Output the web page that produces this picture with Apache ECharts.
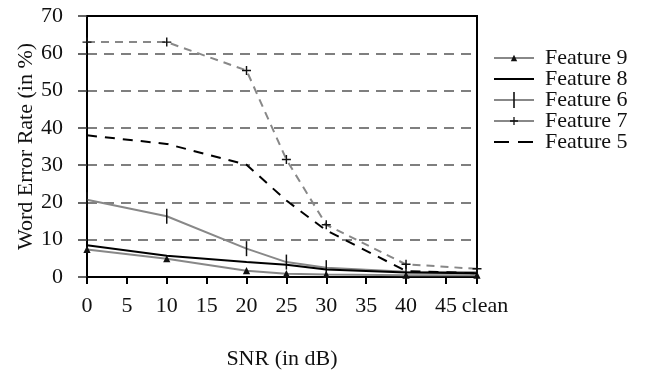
<!DOCTYPE html>
<html>
<head>
<meta charset="utf-8">
<script src="https://cdn.jsdelivr.net/npm/echarts@6/dist/echarts.min.js"></script>
<style>
  html, body { margin: 0; padding: 0; background: #fff; }
  #chart { width: 648px; height: 380px; }
</style>
</head>
<body>
<div id="chart"></div>
<script>
// SNR positions on the x axis; "clean" sits at the right end
const CLEAN = 48.9;
const snr = [0, 10, 20, 25, 30, 40, CLEAN];

const feature9 = [7.4, 4.9, 1.7, 0.9, 0.7, 0.5, 0.5];
const feature8 = [8.5, 5.7, 4.0, 3.3, 2.0, 1.2, 1.0];
const feature6 = [20.7, 16.3, 7.6, 4.0, 2.5, 1.4, 1.3];
const feature7 = [63, 63, 55.4, 31.5, 14.0, 3.4, 2.2];
const feature5 = [38, 35.7, 30.1, 20.5, 12.5, 1.6, 1.0];

const FONT = "Liberation Serif, Times New Roman, serif";
const GRAY = "#888";

// marker paths padded to a 20x20 box so legend and plot sizes stay small
const TRI = "path://M0,0M20,20M6,14L14,14L10,6Z";
const BAR = "path://M0,0M20,20M9,0h2v20h-2z";
const PLUS = "path://M0,0M20,20M9.2,5h1.6v4.2h4.2v1.6h-4.2v4.2h-1.6v-4.2h-4.2v-1.6h4.2z";

const pairs = vals => snr.map((x, i) => [x, vals[i]]);

const chart = echarts.init(document.getElementById("chart"));

chart.setOption({
  animation: false,
  textStyle: { fontFamily: FONT, color: "#111" },
  grid: { left: 87, right: 171, top: 16, bottom: 103, show: true, borderColor: "#000", borderWidth: 2 },
  legend: {
    orient: "vertical",
    left: 493,
    top: 47,
    padding: 0,
    itemWidth: 40,
    itemHeight: 20,
    itemGap: -1,
    textStyle: { fontFamily: FONT, fontSize: 22, lineHeight: 20, color: "#111", padding: [0, 0, 0, 6] },
    data: [
      { name: "Feature 9" },
      { name: "Feature 8", itemStyle: { color: "transparent", borderWidth: 0 } },
      { name: "Feature 6" },
      { name: "Feature 7", lineStyle: { type: "solid" } },
      { name: "Feature 5", itemStyle: { color: "transparent", borderWidth: 0 }, lineStyle: { type: [15, 9] } }
    ]
  },
  xAxis: {
    type: "value",
    min: 0,
    max: CLEAN,
    interval: 5,
    name: "SNR (in dB)",
    nameLocation: "middle",
    nameGap: 71,
    nameMoveOverlap: false,
    nameTextStyle: { fontFamily: FONT, fontSize: 22, color: "#111" },
    axisLine: { lineStyle: { color: "#000", width: 2 } },
    axisTick: { length: 7, lineStyle: { color: "#000", width: 2 } },
    axisLabel: {
      fontFamily: FONT,
      fontSize: 22,
      color: "#111",
      margin: 18,
      showMaxLabel: true,
      formatter: v => (v === CLEAN ? "{c|clean}" : String(v)),
      rich: { c: { fontSize: 22, fontFamily: FONT, color: "#111", padding: [0, 0, 0, 16] } }
    },
    splitLine: { show: false }
  },
  yAxis: {
    type: "value",
    min: 0,
    max: 70,
    interval: 10,
    name: "Word Error Rate (in %)",
    nameLocation: "middle",
    nameGap: 50,
    nameMoveOverlap: false,
    nameTextStyle: { fontFamily: FONT, fontSize: 22, color: "#111" },
    axisLine: { show: true, lineStyle: { color: "#000", width: 2 } },
    axisTick: { show: true, length: 9, lineStyle: { color: "#333", width: 1.5 } },
    axisLabel: { fontFamily: FONT, fontSize: 22, color: "#111", margin: 24 },
    splitLine: {
      show: true,
      showMinLine: false,
      showMaxLine: false,
      lineStyle: { color: "#555", type: [10, 7], width: 1.5 }
    }
  },
  series: [
    {
      name: "Feature 9",
      type: "line",
      data: pairs(feature9),
      lineStyle: { color: GRAY, width: 2 },
      itemStyle: { color: "#111" },
      symbol: TRI,
      symbolSize: 18,
      z: 3
    },
    {
      name: "Feature 8",
      type: "line",
      data: pairs(feature8),
      lineStyle: { color: "#000", width: 2 },
      itemStyle: { color: "#000" },
      symbol: "none",
      z: 4
    },
    {
      name: "Feature 6",
      type: "line",
      data: pairs(feature6),
      lineStyle: { color: GRAY, width: 2 },
      itemStyle: { color: "#111" },
      symbol: BAR,
      symbolSize: 15,
      z: 3
    },
    {
      name: "Feature 7",
      type: "line",
      data: pairs(feature7),
      lineStyle: { color: GRAY, width: 2, type: [8, 6] },
      itemStyle: { color: "#111" },
      symbol: PLUS,
      symbolSize: 18,
      z: 3
    },
    {
      name: "Feature 5",
      type: "line",
      data: pairs(feature5),
      lineStyle: { color: "#000", width: 2, type: [10, 8] },
      itemStyle: { color: "#000" },
      symbol: "none",
      z: 4
    }
  ]
});
</script>
</body>
</html>
